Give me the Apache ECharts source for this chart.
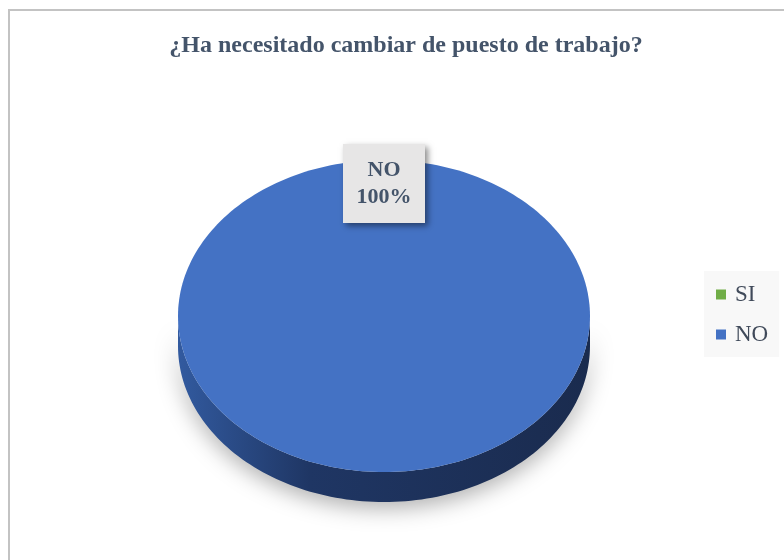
<!DOCTYPE html>
<html>
<head>
<meta charset="utf-8">
<script src="https://cdn.jsdelivr.net/npm/echarts@6/dist/echarts.min.js"></script>
<style>
html,body{margin:0;padding:0;background:#fff;overflow:hidden;width:784px;height:560px;}
#frame{position:absolute;left:8px;top:9px;width:820px;height:600px;border-left:2px solid #c3c3c3;border-top:2px solid #c3c3c3;}
#main{position:absolute;left:0;top:0;width:784px;height:560px;}
</style>
</head>
<body>
<div id="frame"></div>
<div id="main"></div>
<script>
var titleText = '¿Ha necesitado cambiar de puesto de trabajo?';
var categories = ['SI', 'NO'];
var values = [0, 100];
var colors = ['#70ad47', '#4472c4'];

var total = values.reduce(function (a, b) { return a + b; }, 0);
var starts = [];
(function () { var acc = 0; for (var i = 0; i < values.length; i++) { starts.push(acc); acc += values[i]; } })();

var CX = 384, CY = 316, RX = 206, RY = 156, DEPTH = 30;

function pt(deg, dy) {
  var r = deg * Math.PI / 180;
  return [CX + RX * Math.sin(r), CY - RY * Math.cos(r) + (dy || 0)];
}
function arc(a0, a1, dy) {
  var pts = [], n = Math.max(2, Math.ceil((a1 - a0) / 1.5));
  for (var i = 0; i <= n; i++) pts.push(pt(a0 + (a1 - a0) * i / n, dy));
  return pts;
}

function renderItem(params, api) {
  var idx = params.seriesIndex;
  var v = api.value(0);
  if (!v || total <= 0) return { type: 'group', children: [] };
  var a0 = starts[idx] / total * 360, a1 = a0 + v / total * 360;
  var children = [];
  var s0 = Math.max(a0, 90), s1 = Math.min(a1, 270);
  if (s1 > s0) {
    var topPts = arc(s0, s1, 0), botPts = arc(s0, s1, DEPTH).reverse();
    children.push({
      type: 'polygon', z2: 1,
      shape: { points: topPts.concat(botPts) },
      style: {
        fill: new echarts.graphic.LinearGradient(0, 0, 1, 0, [
          { offset: 0, color: '#325a9f' },
          { offset: 0.32, color: '#1f3664' },
          { offset: 1, color: '#1a2b4e' }
        ]),
        shadowBlur: 22, shadowColor: 'rgba(0,0,0,0.32)', shadowOffsetY: 6
      }
    });
  }
  var facePts = arc(a0, a1, 0);
  if (a1 - a0 < 359.99) facePts.unshift([CX, CY]);
  children.push({
    type: 'polygon', z2: 2,
    shape: { points: facePts },
    style: { fill: api.visual('color') }
  });
  var pct = Math.round(v / total * 100) + '%';
  var lx, ly;
  if (a1 - a0 >= 359.99) { lx = CX; ly = CY - RY + 23; }
  else { var m = pt((a0 + a1) / 2, 0); lx = (m[0] + CX) / 2; ly = (m[1] + CY) / 2; }
  children.push({
    type: 'rect', z2: 3,
    shape: { x: lx - 41, y: ly - 39, width: 82, height: 79 },
    style: { fill: '#e7e6e6', shadowBlur: 6, shadowColor: 'rgba(0,0,0,0.45)', shadowOffsetX: 3, shadowOffsetY: 3 }
  });
  children.push({
    type: 'text', z2: 4,
    x: lx, y: ly + 1,
    style: {
      text: categories[idx] + '\n' + pct,
      fill: '#44546a', font: 'bold 22px "Liberation Serif"',
      align: 'center', verticalAlign: 'middle', lineHeight: 27
    }
  });
  return { type: 'group', children: children };
}

var series = categories.map(function (name, i) {
  return {
    type: 'custom', name: name, coordinateSystem: 'none',
    itemStyle: { color: colors[i] },
    renderItem: renderItem,
    data: [[values[i]]],
    silent: true
  };
});

var chart = echarts.init(document.getElementById('main'), null, { renderer: 'canvas' });
chart.setOption({
  backgroundColor: 'transparent',
  animation: false,
  title: {
    text: titleText, left: 401, top: 29, textAlign: 'center',
    textStyle: { fontFamily: 'Liberation Serif', fontWeight: 'bold', fontSize: 24, color: '#44546a' }
  },
  legend: {
    data: categories, orient: 'vertical', left: 704, top: 271,
    backgroundColor: '#f8f8f8', padding: [12, 11, 11, 12],
    icon: 'rect', itemWidth: 10, itemHeight: 10, itemGap: 17,
    textStyle: { fontFamily: 'Liberation Serif', fontSize: 23, color: '#404a5a', padding: [0, 0, 0, 4] },
    selectedMode: false
  },
  series: series
});
</script>
</body>
</html>
